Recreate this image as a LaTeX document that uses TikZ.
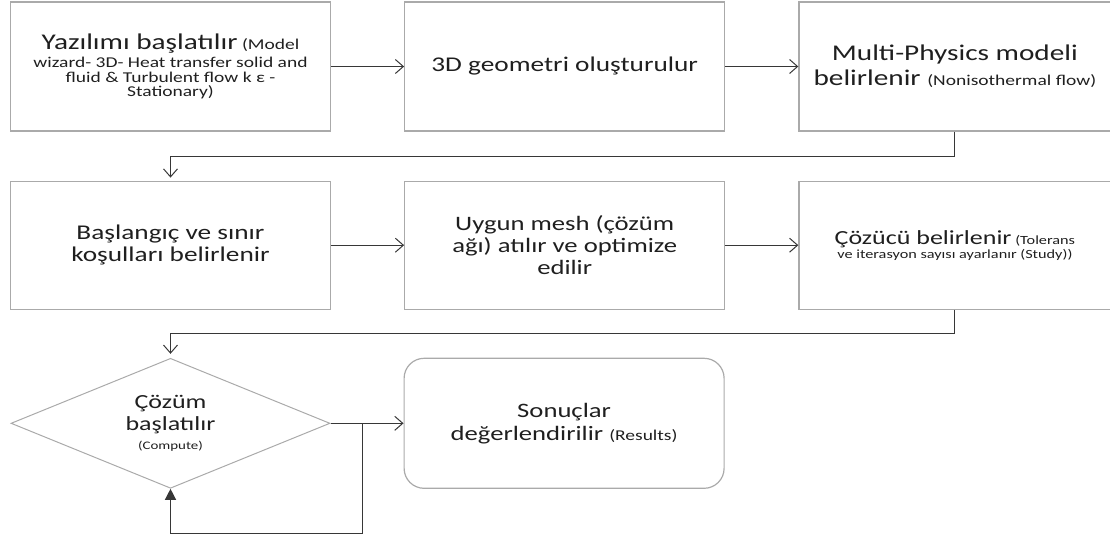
\documentclass[tikz,border=0pt]{standalone}
\usepackage{fontspec}
\setmainfont{Carlito}[FakeStretch=1.3]
\usetikzlibrary{arrows.meta,positioning,shapes.geometric}
\definecolor{boxgray}{RGB}{170,170,170}
\definecolor{linegray}{RGB}{55,55,55}
\newcommand{\hugetxt}{\fontsize{22.5}{25}\selectfont}
\newcommand{\bigtxt}{\fontsize{22.5}{25}\selectfont}
\newcommand{\midtxt}{\fontsize{20}{22}\selectfont}
\newcommand{\smalltxt}{\fontsize{15}{14.5}\selectfont}
\newcommand{\tinytxt}{\fontsize{11.5}{13}\selectfont}

\begin{document}
\begin{tikzpicture}[x=1pt, y=-1pt,
  node distance=49pt and 73pt,
  pstep/.style={draw=boxgray, line width=1.2pt, align=center, minimum width=320pt, minimum height=129pt, text=black!88},
  cutstep/.style={pstep, minimum width=312pt},
  decide/.style={diamond, draw=boxgray, line width=1pt, align=center, aspect=2.45, inner sep=0pt, minimum width=319pt, minimum height=130pt, text=black!88},
  endstep/.style={pstep, rounded corners=20pt, minimum height=130pt},
  arr/.style={-{Straight Barb[length=8pt,width=14pt]}, line width=1pt, draw=linegray},
  back/.style={-{Triangle[length=11pt,width=11pt]}, line width=1.3pt, draw=linegray}
]
  \useasboundingbox (0,0) rectangle (1110,536);

  % row 1
  \node[pstep, font=\smalltxt] (start) at (170.5,66.5) {{\hugetxt Yazılımı başlatılır} (Model\\[4pt]wizard- 3D- Heat transfer solid and\\fluid \& Turbulent flow k ε -\\Stationary)};
  \node[pstep, font=\fontsize{21}{24}\selectfont, right=of start] (geom) {3D geometri oluşturulur};
  \node[cutstep, font=\bigtxt, right=of geom] (phys) {Multi-Physics modeli\\belirlenir {\smalltxt (Nonisothermal flow)}};

  % row 2
  \node[pstep, font=\fontsize{21}{22}\selectfont, below=of start, minimum height=128pt] (init) {Başlangıç ve sınır\\koşulları belirlenir};
  \node[pstep, font=\fontsize{20.5}{22}\selectfont, right=of init, minimum height=128pt] (mesh) {Uygun mesh (çözüm\\ağı) atılır ve optimize\\edilir};
  \node[cutstep, font=\fontsize{12.5}{14}\selectfont, right=of mesh, minimum height=128pt] (solver) {{\fontsize{20}{21}\selectfont Çözücü belirlenir} (Tolerans\\ve iterasyon sayısı ayarlanır (Study))};

  % row 3
  \node[decide, font=\midtxt, below=48pt of init] (comp) {Çözüm\\başlatılır\\[-3pt]{\tinytxt (Compute)}};
  \node[endstep, font=\fontsize{20.5}{23}\selectfont, right=of comp] (res) {Sonuçlar\\değerlendirilir {\smalltxt (Results)}};
  \coordinate (loop) at ([xshift=32pt]comp.east);

  \draw[arr] (start) -- (geom);
  \draw[arr] (geom) -- (phys);
  \draw[arr, shorten >=3pt] (phys.south) -- ++(0,25) -| (init.north);
  \draw[arr] (init) -- (mesh);
  \draw[arr] (mesh) -- (solver);
  \draw[arr, shorten >=4pt] (solver.south) -- ++(0,24) -| (comp.north);
  \draw[arr] (comp) -- (res);
  \draw[back] (loop) -- ++(0,110) -| (comp.south);
\end{tikzpicture}
\end{document}
